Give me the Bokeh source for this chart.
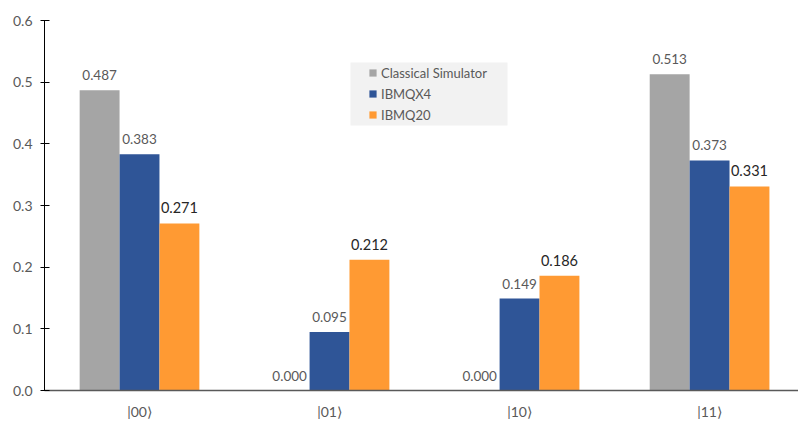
from bokeh.plotting import figure
from bokeh.models import (ColumnDataSource, Range1d, FixedTicker, Legend, LegendItem,
                          BoxAnnotation, LabelSet, CustomJSTickFormatter)
from bokeh.core.properties import value
from bokeh.embed import file_html
from bokeh.resources import INLINE

# Measured probabilities of each two-qubit basis state
states = ["|00\u27e9", "|01\u27e9", "|10\u27e9", "|11\u27e9"]
classical = [0.487, 0.000, 0.000, 0.513]
ibmqx4 = [0.383, 0.095, 0.149, 0.373]
ibmq20 = [0.271, 0.212, 0.186, 0.331]

series_names = ["Classical Simulator", "IBMQX4", "IBMQ20"]
series_values = [classical, ibmqx4, ibmq20]
series_colors = ["#a5a5a5", "#2f5597", "#ff9a33"]
label_colors = ["#595959", "#595959", "#262626"]
label_sizes = ["13.5px", "13.5px", "14.5px"]
offsets = [-0.21, 0.0, 0.21]
bar_width = 0.21

FONT = "Lato"

centers = [i + 0.5 for i in range(len(states))]

p = figure(width=798, height=423, output_backend="svg", toolbar_location=None,
           x_range=Range1d(0, 3.968), y_range=Range1d(0, 0.6),
           min_border_left=44, min_border_right=0, min_border_top=20,
           min_border_bottom=33)
p.outline_line_color = None
p.xgrid.visible = False
p.ygrid.visible = False
p.background_fill_color = "white"

# legend panel behind the legend entries
panel = BoxAnnotation(left=350, right=507, top=62, bottom=125,
                      left_units="canvas", right_units="canvas",
                      top_units="canvas", bottom_units="canvas",
                      fill_color="#f2f2f2", fill_alpha=1.0, line_color=None,
                      level="underlay")
p.add_layout(panel)

renderers = []
for name, vals, color, lc, ls, off in zip(series_names, series_values, series_colors,
                                          label_colors, label_sizes, offsets):
    src = ColumnDataSource(dict(x=[c + off for c in centers], top=vals,
                                txt=[f"{v:.3f}" for v in vals]))
    r = p.vbar(x="x", top="top", width=bar_width, source=src, fill_color=color,
               line_color=None)
    renderers.append((name, r))
    labels = LabelSet(x="x", y="top", text="txt", source=src, text_align="center",
                      text_baseline="bottom", y_offset=10, text_font=value(FONT),
                      text_font_size=value(ls), text_color=value(lc))
    p.add_layout(labels)

# y axis
p.yaxis.ticker = FixedTicker(ticks=[0.0, 0.1, 0.2, 0.3, 0.4, 0.5, 0.6])
p.yaxis.formatter = CustomJSTickFormatter(code="return tick.toFixed(1);")
p.yaxis.axis_line_color = "#000000"
p.yaxis.major_tick_line_color = "#000000"
p.yaxis.major_tick_out = 4
p.yaxis.major_tick_in = 5
p.yaxis.minor_tick_line_color = None
p.yaxis.major_label_text_font = FONT
p.yaxis.major_label_text_font_size = "14px"
p.yaxis.major_label_text_color = "#595959"
p.yaxis.major_label_standoff = 8

# x axis
p.xaxis.ticker = FixedTicker(ticks=centers)
p.xaxis.major_label_overrides = {c: s for c, s in zip(centers, states)}
p.xaxis.axis_line_color = "#595959"
p.xaxis.axis_line_width = 1.5
p.xaxis.major_tick_line_color = None
p.xaxis.minor_tick_line_color = None
p.xaxis.major_label_text_font = FONT
p.xaxis.major_label_text_font_size = "14px"
p.xaxis.major_label_text_color = "#595959"
p.xaxis.major_label_standoff = 6

legend = Legend(items=[LegendItem(label=n, renderers=[r]) for n, r in renderers],
                location=(324, 267), orientation="vertical",
                background_fill_alpha=0, border_line_color=None,
                label_text_font=FONT, label_text_font_size="13px",
                label_text_color="#595959", glyph_width=9, glyph_height=9,
                label_height=17, spacing=4, padding=2, margin=0, label_standoff=4)
p.add_layout(legend, "center")

open("out.html", "w").write(file_html(p, INLINE))
